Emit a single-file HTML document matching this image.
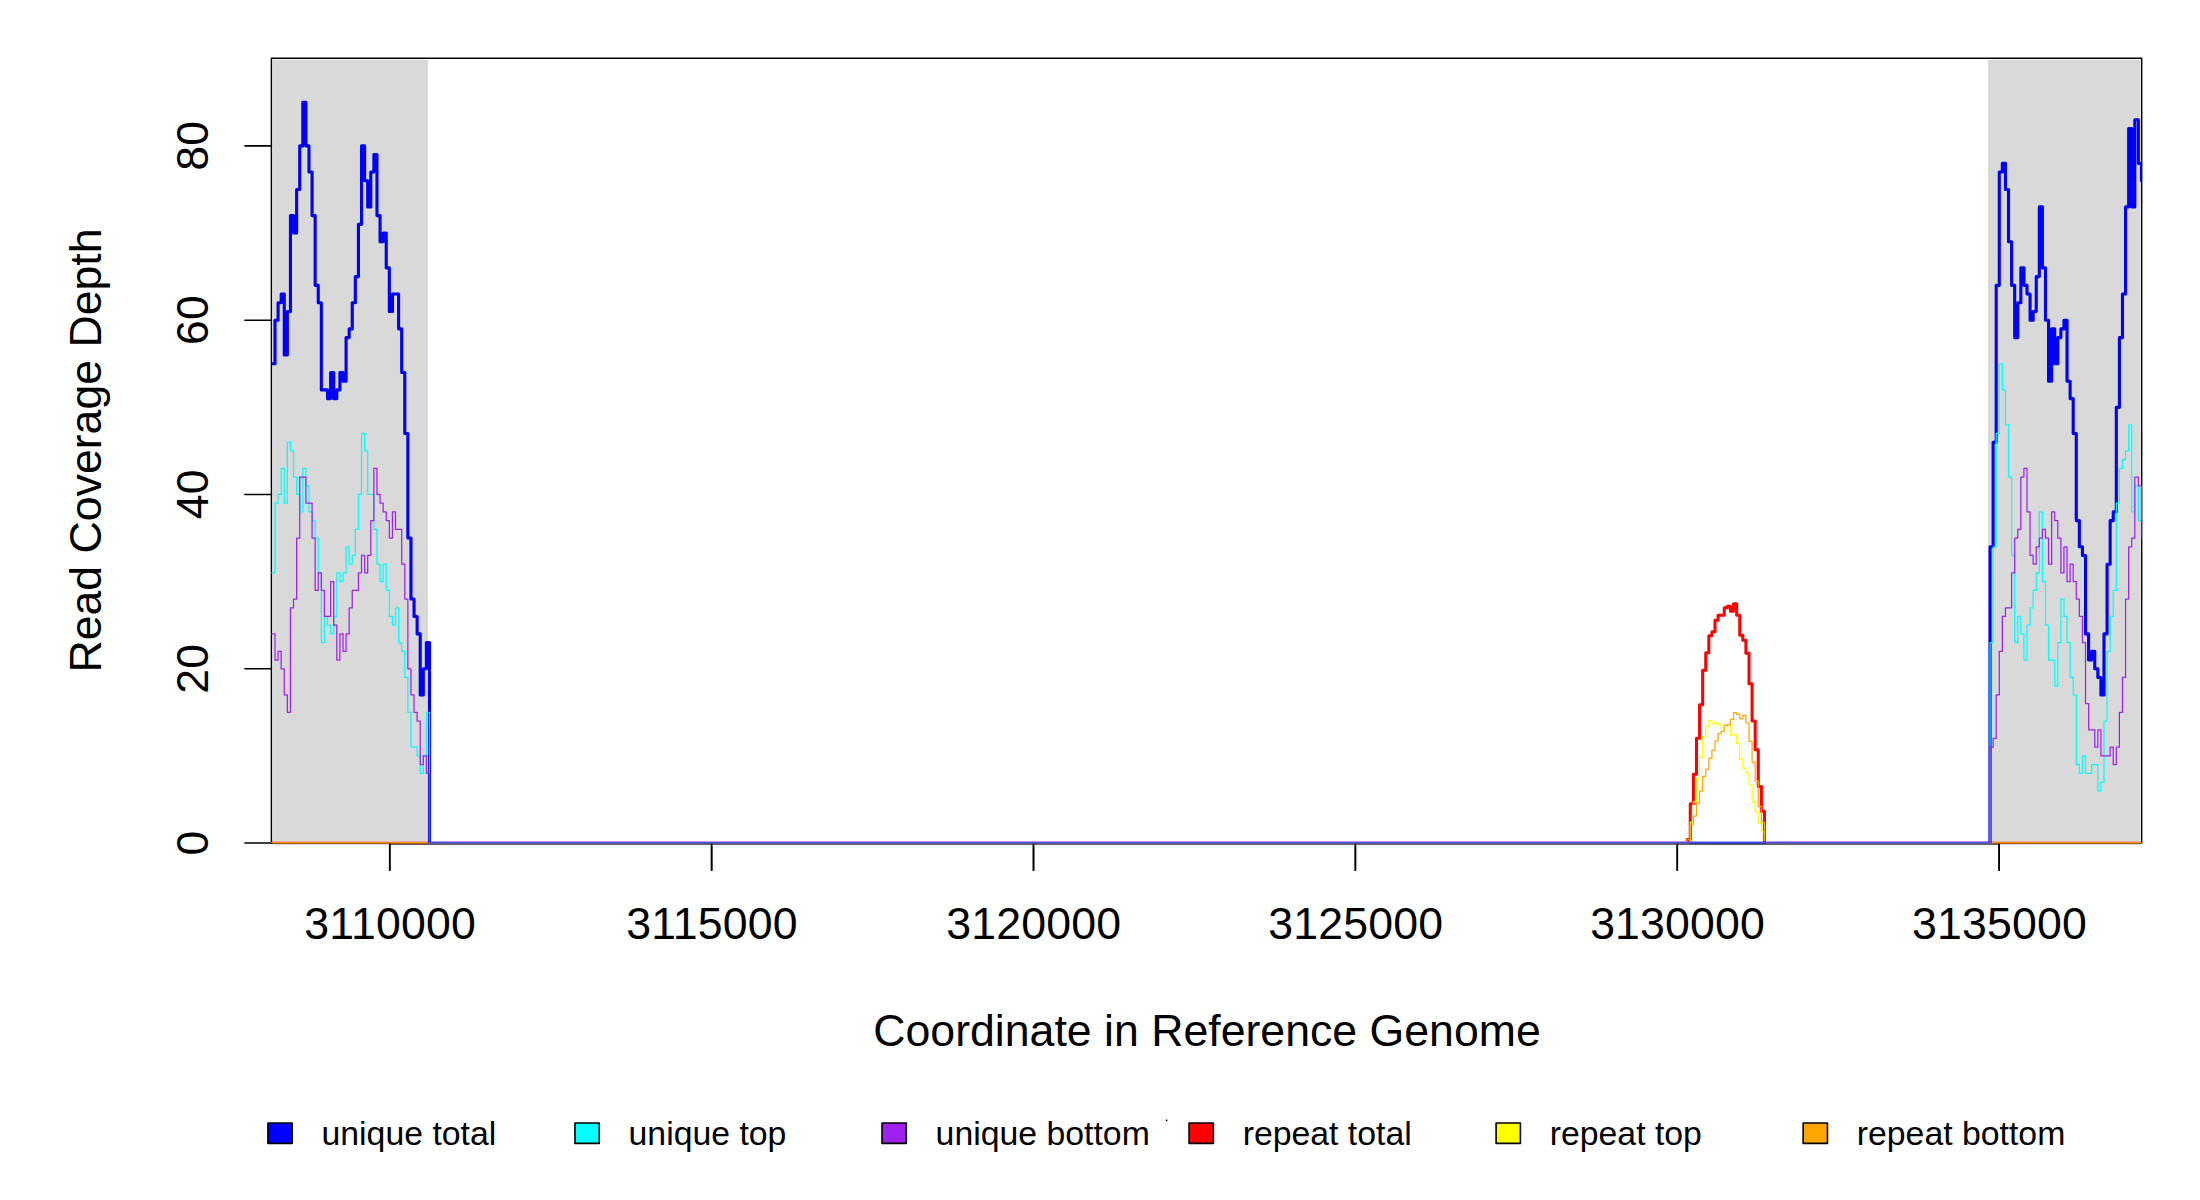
<!DOCTYPE html>
<html><head><meta charset="utf-8"><title>Read Coverage Depth</title>
<style>html,body{margin:0;padding:0;background:#fff}svg{display:block}</style></head>
<body>
<svg width="2200" height="1200" viewBox="0 0 2200 1200">
<rect width="2200" height="1200" fill="#fff"/>
<rect x="272.65" y="59.75" width="155.35" height="781.90" fill="#d9d9d9"/>
<rect x="1988.0" y="59.75" width="152.40" height="781.90" fill="#d9d9d9"/>
<rect x="271.4" y="58.3" width="1870.30" height="784.75" fill="none" stroke="#000" stroke-width="1.45" stroke-linejoin="round"/>
<g stroke="#000" stroke-width="1.6" fill="none" stroke-linecap="round">
<line x1="244.9" x2="271.4" y1="843.05" y2="843.05"/>
<line x1="244.9" x2="271.4" y1="668.76" y2="668.76"/>
<line x1="244.9" x2="271.4" y1="494.47" y2="494.47"/>
<line x1="244.9" x2="271.4" y1="320.19" y2="320.19"/>
<line x1="244.9" x2="271.4" y1="145.90" y2="145.90"/>
<line x1="389.75" x2="389.75" y1="843.05" y2="870.2"/>
<line x1="711.63" x2="711.63" y1="843.05" y2="870.2"/>
<line x1="1033.51" x2="1033.51" y1="843.05" y2="870.2"/>
<line x1="1355.39" x2="1355.39" y1="843.05" y2="870.2"/>
<line x1="1677.27" x2="1677.27" y1="843.05" y2="870.2"/>
<line x1="1999.15" x2="1999.15" y1="843.05" y2="870.2"/>
<line x1="389.75" x2="1999.15" y1="844.1" y2="844.1"/>
</g>
<g font-family="'Liberation Sans', Arial, sans-serif" fill="#000">
<text x="390.10" y="939" font-size="44.65" letter-spacing="0.17" text-anchor="middle">3110000</text>
<text x="711.98" y="939" font-size="44.65" letter-spacing="0.17" text-anchor="middle">3115000</text>
<text x="1033.86" y="939" font-size="44.65" letter-spacing="0.17" text-anchor="middle">3120000</text>
<text x="1355.74" y="939" font-size="44.65" letter-spacing="0.17" text-anchor="middle">3125000</text>
<text x="1677.62" y="939" font-size="44.65" letter-spacing="0.17" text-anchor="middle">3130000</text>
<text x="1999.50" y="939" font-size="44.65" letter-spacing="0.17" text-anchor="middle">3135000</text>
<text transform="translate(208.2,842.95) rotate(-90)" font-size="44.65" letter-spacing="0.17" text-anchor="middle">0</text>
<text transform="translate(208.2,668.66) rotate(-90)" font-size="44.65" letter-spacing="0.17" text-anchor="middle">20</text>
<text transform="translate(208.2,494.37) rotate(-90)" font-size="44.65" letter-spacing="0.17" text-anchor="middle">40</text>
<text transform="translate(208.2,320.09) rotate(-90)" font-size="44.65" letter-spacing="0.17" text-anchor="middle">60</text>
<text transform="translate(208.2,145.80) rotate(-90)" font-size="44.65" letter-spacing="0.17" text-anchor="middle">80</text>
<text x="1207" y="1046" font-size="44.65" text-anchor="middle">Coordinate in Reference Genome</text>
<text transform="translate(101.4,450.5) rotate(-90)" font-size="44.65" text-anchor="middle">Read Coverage Depth</text>
<rect x="267.90" y="1123.0" width="24.3" height="20.4" fill="#0000ff" stroke="#000" stroke-width="1.6" stroke-linejoin="round"/>
<text x="321.50" y="1145.3" font-size="33.8">unique total</text>
<rect x="574.95" y="1123.0" width="24.3" height="20.4" fill="#00ffff" stroke="#000" stroke-width="1.6" stroke-linejoin="round"/>
<text x="628.55" y="1145.3" font-size="33.8">unique top</text>
<rect x="882.00" y="1123.0" width="24.3" height="20.4" fill="#a020f0" stroke="#000" stroke-width="1.6" stroke-linejoin="round"/>
<text x="935.60" y="1145.3" font-size="33.8">unique bottom</text>
<rect x="1189.05" y="1123.0" width="24.3" height="20.4" fill="#ff0000" stroke="#000" stroke-width="1.6" stroke-linejoin="round"/>
<text x="1242.65" y="1145.3" font-size="33.8">repeat total</text>
<rect x="1496.10" y="1123.0" width="24.3" height="20.4" fill="#ffff00" stroke="#000" stroke-width="1.6" stroke-linejoin="round"/>
<text x="1549.70" y="1145.3" font-size="33.8">repeat top</text>
<rect x="1803.15" y="1123.0" width="24.3" height="20.4" fill="#ffa500" stroke="#000" stroke-width="1.6" stroke-linejoin="round"/>
<text x="1856.75" y="1145.3" font-size="33.8">repeat bottom</text>
</g>
<circle cx="1166.6" cy="1120.4" r="0.85" fill="#000"/>
<clipPath id="pc"><rect x="271.4" y="58.3" width="1870.30" height="784.75"/></clipPath>
<g fill="none" stroke-linejoin="round" stroke-linecap="round" clip-path="url(#pc)">
<path d="M271.40,843.05 L1687.20,843.05 L1687.20,839.56 L1690.29,839.56 L1690.29,803.84 L1693.38,803.84 L1693.38,774.29 L1696.47,774.29 L1696.47,738.30 L1699.56,738.30 L1699.56,704.84 L1702.65,704.84 L1702.65,670.33 L1705.74,670.33 L1705.74,652.81 L1708.83,652.81 L1708.83,635.82 L1711.92,635.82 L1711.92,631.81 L1715.01,631.81 L1715.01,620.31 L1718.10,620.31 L1718.10,615.34 L1721.19,615.34 L1721.19,615.34 L1724.28,615.34 L1724.28,607.76 L1727.37,607.76 L1727.37,606.28 L1730.46,606.28 L1730.46,611.25 L1733.55,611.25 L1733.55,603.84 L1736.64,603.84 L1736.64,615.34 L1739.73,615.34 L1739.73,635.30 L1742.82,635.30 L1742.82,640.27 L1745.91,640.27 L1745.91,653.34 L1749.00,653.34 L1749.00,683.84 L1752.09,683.84 L1752.09,721.05 L1755.18,721.05 L1755.18,749.81 L1758.27,749.81 L1758.27,786.41 L1761.36,786.41 L1761.36,811.33 L1764.45,811.33 L1764.45,843.05 L2141.70,843.05" stroke="#ff0000" stroke-width="3.05"/>
<path d="M271.40,843.05 L1687.20,843.05 L1687.20,843.05 L1690.29,843.05 L1690.29,822.14 L1693.38,822.14 L1693.38,801.66 L1696.47,801.66 L1696.47,778.30 L1699.56,778.30 L1699.56,757.30 L1702.65,757.30 L1702.65,736.56 L1705.74,736.56 L1705.74,726.36 L1708.83,726.36 L1708.83,720.35 L1711.92,720.35 L1711.92,723.84 L1715.01,723.84 L1715.01,722.62 L1718.10,722.62 L1718.10,724.53 L1721.19,724.53 L1721.19,728.02 L1724.28,728.02 L1724.28,725.41 L1727.37,725.41 L1727.37,724.97 L1730.46,724.97 L1730.46,734.99 L1733.55,734.99 L1733.55,734.99 L1736.64,734.99 L1736.64,743.71 L1739.73,743.71 L1739.73,759.39 L1742.82,759.39 L1742.82,768.37 L1745.91,768.37 L1745.91,772.81 L1749.00,772.81 L1749.00,784.84 L1752.09,784.84 L1752.09,801.83 L1755.18,801.83 L1755.18,811.85 L1758.27,811.85 L1758.27,823.36 L1761.36,823.36 L1761.36,831.81 L1764.45,831.81 L1764.45,843.05 L2141.70,843.05" stroke="#ffff00" stroke-width="1.25"/>
<path d="M271.40,843.05 L1687.20,843.05 L1687.20,839.56 L1690.29,839.56 L1690.29,824.75 L1693.38,824.75 L1693.38,816.04 L1696.47,816.04 L1696.47,802.96 L1699.56,802.96 L1699.56,790.85 L1702.65,790.85 L1702.65,776.30 L1705.74,776.30 L1705.74,769.33 L1708.83,769.33 L1708.83,758.35 L1711.92,758.35 L1711.92,750.33 L1715.01,750.33 L1715.01,740.83 L1718.10,740.83 L1718.10,733.51 L1721.19,733.51 L1721.19,731.33 L1724.28,731.33 L1724.28,725.41 L1727.37,725.41 L1727.37,724.53 L1730.46,724.53 L1730.46,719.31 L1733.55,719.31 L1733.55,712.60 L1736.64,712.60 L1736.64,714.34 L1739.73,714.34 L1739.73,718.78 L1742.82,718.78 L1742.82,715.30 L1745.91,715.30 L1745.91,722.79 L1749.00,722.79 L1749.00,741.35 L1752.09,741.35 L1752.09,762.35 L1755.18,762.35 L1755.18,780.83 L1758.27,780.83 L1758.27,806.45 L1761.36,806.45 L1761.36,822.31 L1764.45,822.31 L1764.45,843.05 L2141.70,843.05" stroke="#ffa500" stroke-width="1.25"/>
<path d="M271.40,363.76 L275.00,363.76 L275.00,320.19 L278.09,320.19 L278.09,302.76 L281.18,302.76 L281.18,294.04 L284.27,294.04 L284.27,355.04 L287.36,355.04 L287.36,311.47 L290.45,311.47 L290.45,215.61 L293.54,215.61 L293.54,233.04 L296.63,233.04 L296.63,189.47 L299.72,189.47 L299.72,145.90 L302.81,145.90 L302.81,102.33 L305.90,102.33 L305.90,145.90 L308.99,145.90 L308.99,172.04 L312.08,172.04 L312.08,215.61 L315.17,215.61 L315.17,285.33 L318.26,285.33 L318.26,302.76 L321.35,302.76 L321.35,389.90 L324.44,389.90 L324.44,389.90 L327.53,389.90 L327.53,398.62 L330.62,398.62 L330.62,372.47 L333.71,372.47 L333.71,398.62 L336.80,398.62 L336.80,389.90 L339.89,389.90 L339.89,372.47 L342.98,372.47 L342.98,381.19 L346.07,381.19 L346.07,337.61 L349.16,337.61 L349.16,328.90 L352.25,328.90 L352.25,302.76 L355.34,302.76 L355.34,276.61 L358.43,276.61 L358.43,224.33 L361.52,224.33 L361.52,145.90 L364.61,145.90 L364.61,180.76 L367.70,180.76 L367.70,206.90 L370.79,206.90 L370.79,172.04 L373.88,172.04 L373.88,154.61 L376.97,154.61 L376.97,215.61 L380.06,215.61 L380.06,241.76 L383.15,241.76 L383.15,233.04 L386.24,233.04 L386.24,267.90 L389.33,267.90 L389.33,311.47 L392.42,311.47 L392.42,294.04 L395.51,294.04 L395.51,294.04 L398.60,294.04 L398.60,328.90 L401.69,328.90 L401.69,372.47 L404.78,372.47 L404.78,433.47 L407.87,433.47 L407.87,538.05 L410.96,538.05 L410.96,599.05 L414.05,599.05 L414.05,616.48 L417.14,616.48 L417.14,633.90 L420.23,633.90 L420.23,694.91 L423.32,694.91 L423.32,668.76 L426.41,668.76 L426.41,642.62 L429.50,642.62 L429.50,843.05 L1990.04,843.05 L1990.04,546.76 L1993.12,546.76 L1993.12,442.19 L1996.20,442.19 L1996.20,285.33 L1999.28,285.33 L1999.28,172.04 L2002.36,172.04 L2002.36,163.33 L2005.44,163.33 L2005.44,189.47 L2008.52,189.47 L2008.52,241.76 L2011.60,241.76 L2011.60,285.33 L2014.68,285.33 L2014.68,337.61 L2017.76,337.61 L2017.76,302.76 L2020.84,302.76 L2020.84,267.90 L2023.92,267.90 L2023.92,285.33 L2027.00,285.33 L2027.00,294.04 L2030.08,294.04 L2030.08,320.19 L2033.16,320.19 L2033.16,311.47 L2036.24,311.47 L2036.24,276.61 L2039.32,276.61 L2039.32,206.90 L2042.40,206.90 L2042.40,267.90 L2045.48,267.90 L2045.48,320.19 L2048.56,320.19 L2048.56,381.19 L2051.64,381.19 L2051.64,328.90 L2054.72,328.90 L2054.72,363.76 L2057.80,363.76 L2057.80,337.61 L2060.88,337.61 L2060.88,328.90 L2063.96,328.90 L2063.96,320.19 L2067.04,320.19 L2067.04,381.19 L2070.12,381.19 L2070.12,398.62 L2073.20,398.62 L2073.20,433.47 L2076.28,433.47 L2076.28,520.62 L2079.36,520.62 L2079.36,546.76 L2082.44,546.76 L2082.44,555.47 L2085.52,555.47 L2085.52,633.90 L2088.60,633.90 L2088.60,660.05 L2091.68,660.05 L2091.68,651.33 L2094.76,651.33 L2094.76,668.76 L2097.84,668.76 L2097.84,677.48 L2100.92,677.48 L2100.92,694.91 L2104.00,694.91 L2104.00,633.90 L2107.08,633.90 L2107.08,564.19 L2110.16,564.19 L2110.16,520.62 L2113.24,520.62 L2113.24,511.90 L2116.32,511.90 L2116.32,407.33 L2119.40,407.33 L2119.40,337.61 L2122.48,337.61 L2122.48,294.04 L2125.56,294.04 L2125.56,206.90 L2128.64,206.90 L2128.64,128.47 L2131.72,128.47 L2131.72,206.90 L2134.80,206.90 L2134.80,119.75 L2138.38,119.75 L2138.38,163.33 L2141.46,163.33 L2141.46,180.76 L2144.54,180.76" stroke="#0000ff" stroke-width="3.12"/>
<path d="M271.40,572.90 L275.00,572.90 L275.00,503.19 L278.09,503.19 L278.09,494.47 L281.18,494.47 L281.18,468.33 L284.27,468.33 L284.27,503.19 L287.36,503.19 L287.36,442.19 L290.45,442.19 L290.45,450.90 L293.54,450.90 L293.54,477.05 L296.63,477.05 L296.63,494.47 L299.72,494.47 L299.72,511.90 L302.81,511.90 L302.81,468.33 L305.90,468.33 L305.90,485.76 L308.99,485.76 L308.99,511.90 L312.08,511.90 L312.08,520.62 L315.17,520.62 L315.17,538.05 L318.26,538.05 L318.26,572.90 L321.35,572.90 L321.35,642.62 L324.44,642.62 L324.44,616.48 L327.53,616.48 L327.53,625.19 L330.62,625.19 L330.62,633.90 L333.71,633.90 L333.71,616.48 L336.80,616.48 L336.80,572.90 L339.89,572.90 L339.89,581.62 L342.98,581.62 L342.98,572.90 L346.07,572.90 L346.07,546.76 L349.16,546.76 L349.16,564.19 L352.25,564.19 L352.25,555.47 L355.34,555.47 L355.34,529.33 L358.43,529.33 L358.43,494.47 L361.52,494.47 L361.52,433.47 L364.61,433.47 L364.61,450.90 L367.70,450.90 L367.70,494.47 L370.79,494.47 L370.79,494.47 L373.88,494.47 L373.88,529.33 L376.97,529.33 L376.97,564.19 L380.06,564.19 L380.06,581.62 L383.15,581.62 L383.15,564.19 L386.24,564.19 L386.24,590.33 L389.33,590.33 L389.33,616.48 L392.42,616.48 L392.42,625.19 L395.51,625.19 L395.51,607.76 L398.60,607.76 L398.60,642.62 L401.69,642.62 L401.69,651.33 L404.78,651.33 L404.78,677.48 L407.87,677.48 L407.87,712.33 L410.96,712.33 L410.96,747.19 L414.05,747.19 L414.05,747.19 L417.14,747.19 L417.14,755.91 L420.23,755.91 L420.23,773.33 L423.32,773.33 L423.32,755.91 L426.41,755.91 L426.41,712.33 L429.50,712.33 L429.50,843.05 L1990.04,843.05 L1990.04,642.62 L1993.12,642.62 L1993.12,546.76 L1996.20,546.76 L1996.20,433.47 L1999.28,433.47 L1999.28,363.76 L2002.36,363.76 L2002.36,389.90 L2005.44,389.90 L2005.44,424.76 L2008.52,424.76 L2008.52,477.05 L2011.60,477.05 L2011.60,555.47 L2014.68,555.47 L2014.68,642.62 L2017.76,642.62 L2017.76,616.48 L2020.84,616.48 L2020.84,633.90 L2023.92,633.90 L2023.92,660.05 L2027.00,660.05 L2027.00,625.19 L2030.08,625.19 L2030.08,607.76 L2033.16,607.76 L2033.16,590.33 L2036.24,590.33 L2036.24,572.90 L2039.32,572.90 L2039.32,511.90 L2042.40,511.90 L2042.40,581.62 L2045.48,581.62 L2045.48,625.19 L2048.56,625.19 L2048.56,660.05 L2051.64,660.05 L2051.64,660.05 L2054.72,660.05 L2054.72,686.19 L2057.80,686.19 L2057.80,642.62 L2060.88,642.62 L2060.88,599.05 L2063.96,599.05 L2063.96,616.48 L2067.04,616.48 L2067.04,642.62 L2070.12,642.62 L2070.12,677.48 L2073.20,677.48 L2073.20,694.91 L2076.28,694.91 L2076.28,764.62 L2079.36,764.62 L2079.36,773.33 L2082.44,773.33 L2082.44,755.91 L2085.52,755.91 L2085.52,773.33 L2088.60,773.33 L2088.60,773.33 L2091.68,773.33 L2091.68,764.62 L2094.76,764.62 L2094.76,764.62 L2097.84,764.62 L2097.84,790.76 L2100.92,790.76 L2100.92,782.05 L2104.00,782.05 L2104.00,721.05 L2107.08,721.05 L2107.08,651.33 L2110.16,651.33 L2110.16,616.48 L2113.24,616.48 L2113.24,590.33 L2116.32,590.33 L2116.32,503.19 L2119.40,503.19 L2119.40,468.33 L2122.48,468.33 L2122.48,459.62 L2125.56,459.62 L2125.56,450.90 L2128.64,450.90 L2128.64,424.76 L2131.72,424.76 L2131.72,511.90 L2134.80,511.90 L2134.80,485.76 L2138.38,485.76 L2138.38,520.62 L2141.46,520.62 L2141.46,485.76 L2144.54,485.76" stroke="#00ffff" stroke-width="1.25"/>
<path d="M271.40,633.90 L275.00,633.90 L275.00,660.05 L278.09,660.05 L278.09,651.33 L281.18,651.33 L281.18,668.76 L284.27,668.76 L284.27,694.91 L287.36,694.91 L287.36,712.33 L290.45,712.33 L290.45,607.76 L293.54,607.76 L293.54,599.05 L296.63,599.05 L296.63,538.05 L299.72,538.05 L299.72,477.05 L302.81,477.05 L302.81,477.05 L305.90,477.05 L305.90,503.19 L308.99,503.19 L308.99,503.19 L312.08,503.19 L312.08,538.05 L315.17,538.05 L315.17,590.33 L318.26,590.33 L318.26,572.90 L321.35,572.90 L321.35,590.33 L324.44,590.33 L324.44,616.48 L327.53,616.48 L327.53,616.48 L330.62,616.48 L330.62,581.62 L333.71,581.62 L333.71,625.19 L336.80,625.19 L336.80,660.05 L339.89,660.05 L339.89,633.90 L342.98,633.90 L342.98,651.33 L346.07,651.33 L346.07,633.90 L349.16,633.90 L349.16,607.76 L352.25,607.76 L352.25,590.33 L355.34,590.33 L355.34,590.33 L358.43,590.33 L358.43,572.90 L361.52,572.90 L361.52,555.47 L364.61,555.47 L364.61,572.90 L367.70,572.90 L367.70,555.47 L370.79,555.47 L370.79,520.62 L373.88,520.62 L373.88,468.33 L376.97,468.33 L376.97,494.47 L380.06,494.47 L380.06,503.19 L383.15,503.19 L383.15,511.90 L386.24,511.90 L386.24,520.62 L389.33,520.62 L389.33,538.05 L392.42,538.05 L392.42,511.90 L395.51,511.90 L395.51,529.33 L398.60,529.33 L398.60,529.33 L401.69,529.33 L401.69,564.19 L404.78,564.19 L404.78,599.05 L407.87,599.05 L407.87,668.76 L410.96,668.76 L410.96,694.91 L414.05,694.91 L414.05,712.33 L417.14,712.33 L417.14,721.05 L420.23,721.05 L420.23,764.62 L423.32,764.62 L423.32,755.91 L426.41,755.91 L426.41,773.33 L429.50,773.33 L429.50,843.05 L1990.04,843.05 L1990.04,747.19 L1993.12,747.19 L1993.12,738.48 L1996.20,738.48 L1996.20,694.91 L1999.28,694.91 L1999.28,651.33 L2002.36,651.33 L2002.36,616.48 L2005.44,616.48 L2005.44,607.76 L2008.52,607.76 L2008.52,607.76 L2011.60,607.76 L2011.60,572.90 L2014.68,572.90 L2014.68,538.05 L2017.76,538.05 L2017.76,529.33 L2020.84,529.33 L2020.84,477.05 L2023.92,477.05 L2023.92,468.33 L2027.00,468.33 L2027.00,511.90 L2030.08,511.90 L2030.08,555.47 L2033.16,555.47 L2033.16,564.19 L2036.24,564.19 L2036.24,546.76 L2039.32,546.76 L2039.32,538.05 L2042.40,538.05 L2042.40,529.33 L2045.48,529.33 L2045.48,538.05 L2048.56,538.05 L2048.56,564.19 L2051.64,564.19 L2051.64,511.90 L2054.72,511.90 L2054.72,520.62 L2057.80,520.62 L2057.80,538.05 L2060.88,538.05 L2060.88,572.90 L2063.96,572.90 L2063.96,546.76 L2067.04,546.76 L2067.04,581.62 L2070.12,581.62 L2070.12,564.19 L2073.20,564.19 L2073.20,581.62 L2076.28,581.62 L2076.28,599.05 L2079.36,599.05 L2079.36,616.48 L2082.44,616.48 L2082.44,642.62 L2085.52,642.62 L2085.52,703.62 L2088.60,703.62 L2088.60,729.76 L2091.68,729.76 L2091.68,729.76 L2094.76,729.76 L2094.76,747.19 L2097.84,747.19 L2097.84,729.76 L2100.92,729.76 L2100.92,755.91 L2104.00,755.91 L2104.00,755.91 L2107.08,755.91 L2107.08,755.91 L2110.16,755.91 L2110.16,747.19 L2113.24,747.19 L2113.24,764.62 L2116.32,764.62 L2116.32,747.19 L2119.40,747.19 L2119.40,712.33 L2122.48,712.33 L2122.48,677.48 L2125.56,677.48 L2125.56,599.05 L2128.64,599.05 L2128.64,546.76 L2131.72,546.76 L2131.72,538.05 L2134.80,538.05 L2134.80,477.05 L2138.38,477.05 L2138.38,485.76 L2141.46,485.76 L2141.46,538.05 L2144.54,538.05" stroke="#a020f0" stroke-width="1.25"/>
</g>
<g shape-rendering="crispEdges">
<rect x="272.65" y="841" width="155.55" height="1" fill="#e4a8ae"/>
<rect x="272.65" y="842" width="155.55" height="1" fill="#ff8e0c"/>
<rect x="272.65" y="843" width="155.55" height="1" fill="#aa6000"/>
<rect x="272.65" y="844" width="116.35" height="1" fill="#d2d5e0"/>
<rect x="390.60" y="844" width="37.60" height="1" fill="#5a5a62"/>
<rect x="1991.80" y="841" width="148.60" height="1" fill="#e4a8ae"/>
<rect x="1991.80" y="842" width="148.60" height="1" fill="#ff8e0c"/>
<rect x="1991.80" y="843" width="148.60" height="1" fill="#aa6000"/>
<rect x="1999.90" y="844" width="140.50" height="1" fill="#d2d5e0"/>
<rect x="1991.80" y="844" width="6.60" height="1" fill="#5a5a62"/>
<rect x="431.40" y="841" width="1255.20" height="1" fill="#c99ad9"/>
<rect x="431.40" y="842" width="1255.20" height="1" fill="#4a4af2"/>
<rect x="1766.20" y="841" width="222.00" height="1" fill="#c99ad9"/>
<rect x="1766.20" y="842" width="222.00" height="1" fill="#4a4af2"/>
<rect x="1692.50" y="841" width="70.70" height="1" fill="#a8a8ff"/>
<rect x="1692.50" y="842" width="70.70" height="1" fill="#4848ff"/>
<rect x="428.30" y="843" width="1260.70" height="1" fill="#5a5a94"/>
<rect x="428.30" y="844" width="1260.70" height="1" fill="#666666"/>
<rect x="428.30" y="845" width="1260.70" height="1" fill="#f3f3f3"/>
<rect x="1765.50" y="843" width="226.30" height="1" fill="#5a5a94"/>
<rect x="1765.50" y="844" width="226.30" height="1" fill="#666666"/>
<rect x="1765.50" y="845" width="226.30" height="1" fill="#f3f3f3"/>
<rect x="1689.00" y="843" width="76.50" height="1" fill="#283aa0"/>
<rect x="1689.00" y="844" width="76.50" height="1" fill="#666666"/>
<rect x="1689.00" y="845" width="76.50" height="1" fill="#f3f3f3"/>
</g>
<g stroke="#000" stroke-width="1.6" fill="none" stroke-linecap="round">
<line x1="389.75" x2="389.75" y1="844.4" y2="870.2"/>
<line x1="711.63" x2="711.63" y1="844.4" y2="870.2"/>
<line x1="1033.51" x2="1033.51" y1="844.4" y2="870.2"/>
<line x1="1355.39" x2="1355.39" y1="844.4" y2="870.2"/>
<line x1="1677.27" x2="1677.27" y1="844.4" y2="870.2"/>
<line x1="1999.15" x2="1999.15" y1="844.4" y2="870.2"/>
</g>
</svg>
</body></html>
